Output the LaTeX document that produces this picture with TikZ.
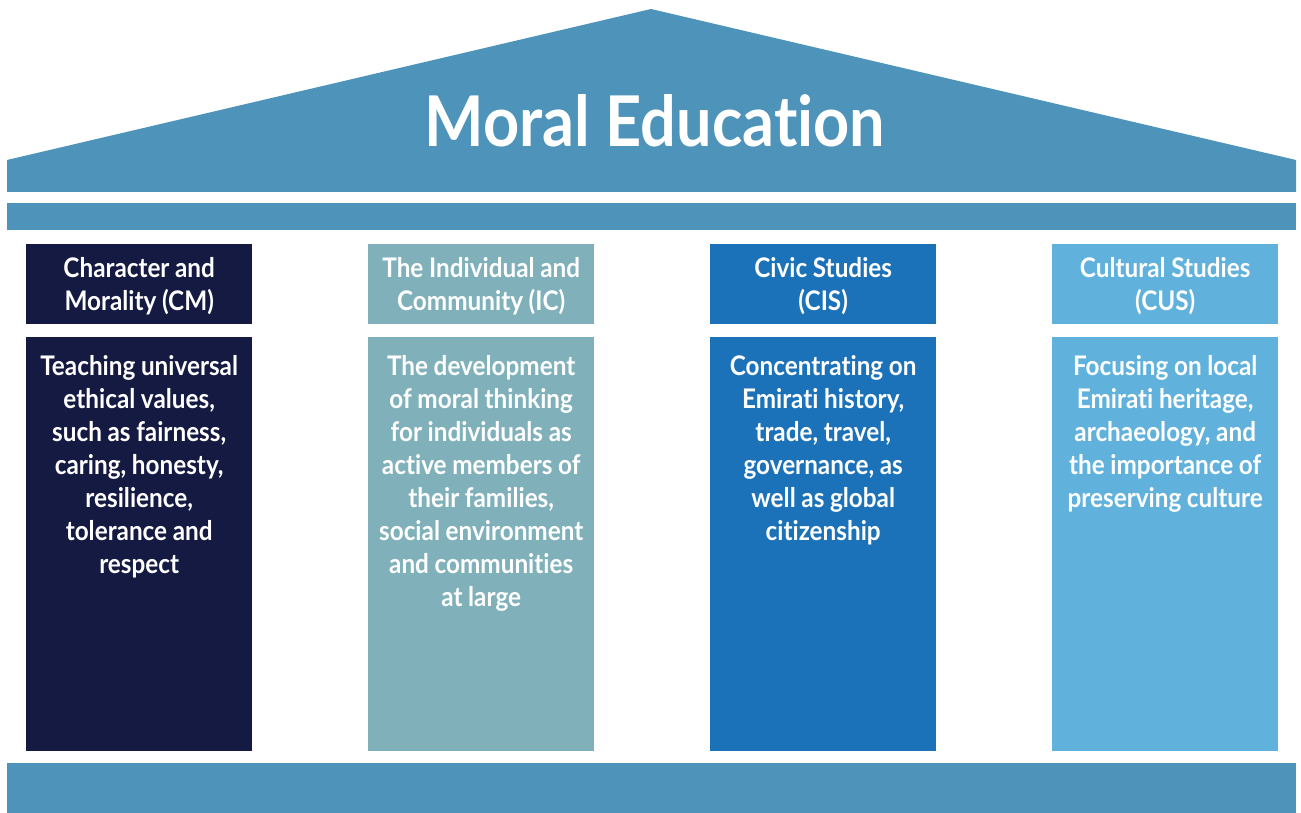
\documentclass[tikz,border=0pt]{standalone}
\usepackage{fontspec}
\setmainfont{Lato}[FakeStretch=0.9,WordSpace=0.95,Ligatures=NoCommon]
\newfontfamily\titlefont{Lato}[FakeStretch=0.9,Ligatures=NoCommon]
\definecolor{roofc}{HTML}{4E93BA}
\definecolor{ca}{HTML}{151A42}
\definecolor{cb}{HTML}{80B1BB}
\definecolor{cc}{HTML}{1C72B8}
\definecolor{cd}{HTML}{60B2DD}
\begin{document}
\begin{tikzpicture}[x=1pt,y=-1pt,
  hbox/.style={draw=none,rectangle,minimum width=226pt,minimum height=80pt,inner sep=0pt,anchor=north west},
  bbox/.style={draw=none,rectangle,minimum width=226pt,minimum height=414pt,inner sep=0pt,anchor=north west},
  htext/.style={text=white,font=\bfseries\fontsize{27}{33}\selectfont,align=center,inner sep=0pt},
  btext/.style={text=white,font=\bfseries\fontsize{27}{33}\selectfont,align=center,inner sep=0pt,anchor=north}]
\useasboundingbox (0,0) rectangle (1301,813);
% roof
\fill[roofc] (7,192) -- (7,160) -- (651,9) -- (1296,160) -- (1296,192) -- cycle;
\node[text=white,font=\titlefont\bfseries\fontsize{70}{72}\selectfont,anchor=base,inner sep=0pt] (title) at (655,147) {Moral Education};
% beam
\node[fill=roofc,rectangle,minimum width=1289pt,minimum height=27pt,inner sep=0pt,anchor=north west] (beam) at (7,203) {};
% base
\node[fill=roofc,rectangle,minimum width=1289pt,minimum height=50pt,inner sep=0pt,anchor=north west] (base) at (7,763) {};
% column 1
\node[hbox,fill=ca] (h1) at (26,244) {};
\node[bbox,fill=ca] (b1) at (26,337) {};
\node[htext] (ht1) at ([yshift=-2pt]h1.center) {Character and\\Morality (CM)};
\node[btext] (bt1) at ([yshift=-18pt]b1.north) {Teaching universal\\ethical values,\\such as fairness,\\caring, honesty,\\resilience,\\tolerance and\\respect};
% column 2
\node[hbox,fill=cb] (h2) at (368,244) {};
\node[bbox,fill=cb] (b2) at (368,337) {};
\node[htext] (ht2) at ([yshift=-2pt]h2.center) {The Individual and\\Community (IC)};
\node[btext] (bt2) at ([yshift=-18pt]b2.north) {The development\\of moral thinking\\for individuals as\\active members of\\their families,\\social environment\\and communities\\at large};
% column 3
\node[hbox,fill=cc] (h3) at (710,244) {};
\node[bbox,fill=cc] (b3) at (710,337) {};
\node[htext] (ht3) at ([yshift=-2pt]h3.center) {Civic Studies\\(CIS)};
\node[btext] (bt3) at ([yshift=-18pt]b3.north) {Concentrating on\\Emirati history,\\trade, travel,\\governance, as\\well as global\\citizenship};
% column 4
\node[hbox,fill=cd] (h4) at (1052,244) {};
\node[bbox,fill=cd] (b4) at (1052,337) {};
\node[htext] (ht4) at ([yshift=-2pt]h4.center) {Cultural Studies\\(CUS)};
\node[btext] (bt4) at ([yshift=-18pt]b4.north) {Focusing on local\\Emirati heritage,\\archaeology, and\\the importance of\\preserving culture};
\end{tikzpicture}
\end{document}
